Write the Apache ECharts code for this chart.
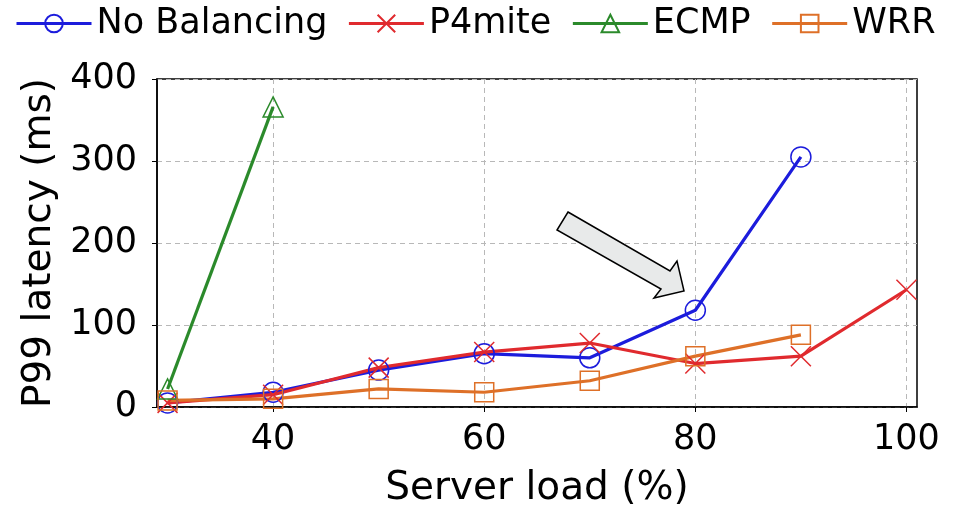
<!DOCTYPE html>
<html>
<head>
<meta charset="utf-8">
<script src="https://cdn.jsdelivr.net/npm/echarts@6/dist/echarts.min.js"></script>
<style>
  html, body { margin: 0; padding: 0; background: #fff; }
  #chart { width: 953px; height: 507px; }
</style>
</head>
<body>
<div id="chart"></div>
<script>
// server load (%) on x, P99 latency (ms) on y
const noBalancing = [[30, 5], [40, 18], [50, 45], [60, 65], [70, 60], [80, 118], [90, 305]];
const p4mite = [[30, 5], [40, 15], [50, 48], [60, 67], [70, 78], [80, 53], [90, 62], [100, 143]];
const ecmp = [[30, 22], [40, 366]];
const wrr = [[30, 8], [40, 10], [50, 22], [60, 18], [70, 32], [80, 62], [90, 88]];

const xTicks = [40, 60, 80, 100];
const yTicks = [0, 100, 200, 300, 400];

const FONT = 'DejaVu Sans';

// 系列样式
function makeSeries(name, data, color, symbol, size) {
  return {
    name: name,
    type: 'line',
    data: data,
    symbol: symbol,
    symbolSize: size,
    showAllSymbol: true,
    lineStyle: { color: color, width: 3.2 },
    itemStyle: { color: 'rgba(0,0,0,0)', borderColor: color, borderWidth: 1.5 },
    emphasis: { disabled: true }
  };
}

const xPath = 'path://M0,0L10,10M10,0L0,10';

let chart = echarts.init(document.getElementById('chart'));

let option = {
  animation: false,
  textStyle: { fontFamily: FONT },
  legend: {
    left: 10,
    top: 1,
    itemWidth: 75,
    itemHeight: 22,
    itemGap: 20,
    lineStyle: { width: 3 },
    textStyle: { fontFamily: FONT, fontSize: 35, color: '#000' },
    data: ['No Balancing', 'P4mite', 'ECMP', 'WRR']
  },
  grid: {
    left: 157,
    right: 36,
    top: 79,
    bottom: 100,
    outerBoundsMode: 'none',
    show: true,
    borderColor: '#000',
    borderWidth: 1.5
  },
  xAxis: {
    type: 'value',
    min: 29,
    max: 101,
    name: 'Server load (%)',
    nameLocation: 'middle',
    nameGap: 62,
    nameTextStyle: { fontFamily: FONT, fontSize: 39, color: '#000' },
    axisLine: { lineStyle: { color: '#000', width: 1.5 } },
    axisTick: { show: true, length: 5, customValues: xTicks, lineStyle: { color: '#000' } },
    axisLabel: { customValues: xTicks, fontFamily: FONT, fontSize: 35, color: '#000', margin: 15 },
    splitLine: { show: true, lineStyle: { color: '#b8b8b8', type: [5, 4], width: 1 } }
  },
  yAxis: {
    type: 'value',
    min: 0,
    max: 400,
    interval: 100,
    name: 'P99 latency (ms)',
    nameLocation: 'middle',
    nameGap: 85,
    nameTextStyle: { fontFamily: FONT, fontSize: 39, color: '#000' },
    axisLine: { show: true, lineStyle: { color: '#000', width: 1.5 } },
    axisTick: { show: true, length: 5, lineStyle: { color: '#000' } },
    axisLabel: {
      fontFamily: FONT, fontSize: 35, color: '#000', margin: 20,
      formatter: (v) => yTicks.indexOf(v) >= 0 ? String(v) : ''
    },
    splitLine: { show: true, lineStyle: { color: '#b8b8b8', type: [5, 4], width: 1 } }
  },
  series: [
    makeSeries('No Balancing', noBalancing, '#1c1cdc', 'circle', 20),
    makeSeries('P4mite', p4mite, '#e02a2e', xPath, 20),
    makeSeries('ECMP', ecmp, '#2b8a2b', 'triangle', 20),
    makeSeries('WRR', wrr, '#de7028', 'rect', 19)
  ],
  // 指向 80% 处的箭头
  graphic: [{
    type: 'polygon',
    z: 100,
    shape: {
      points: [[568, 212], [670, 271], [677, 261], [684, 291], [654, 298], [661, 289], [557, 230]]
    },
    style: { fill: '#e8eaea', stroke: '#000', lineWidth: 1.5 }
  }]
};

chart.setOption(option);
</script>
</body>
</html>
